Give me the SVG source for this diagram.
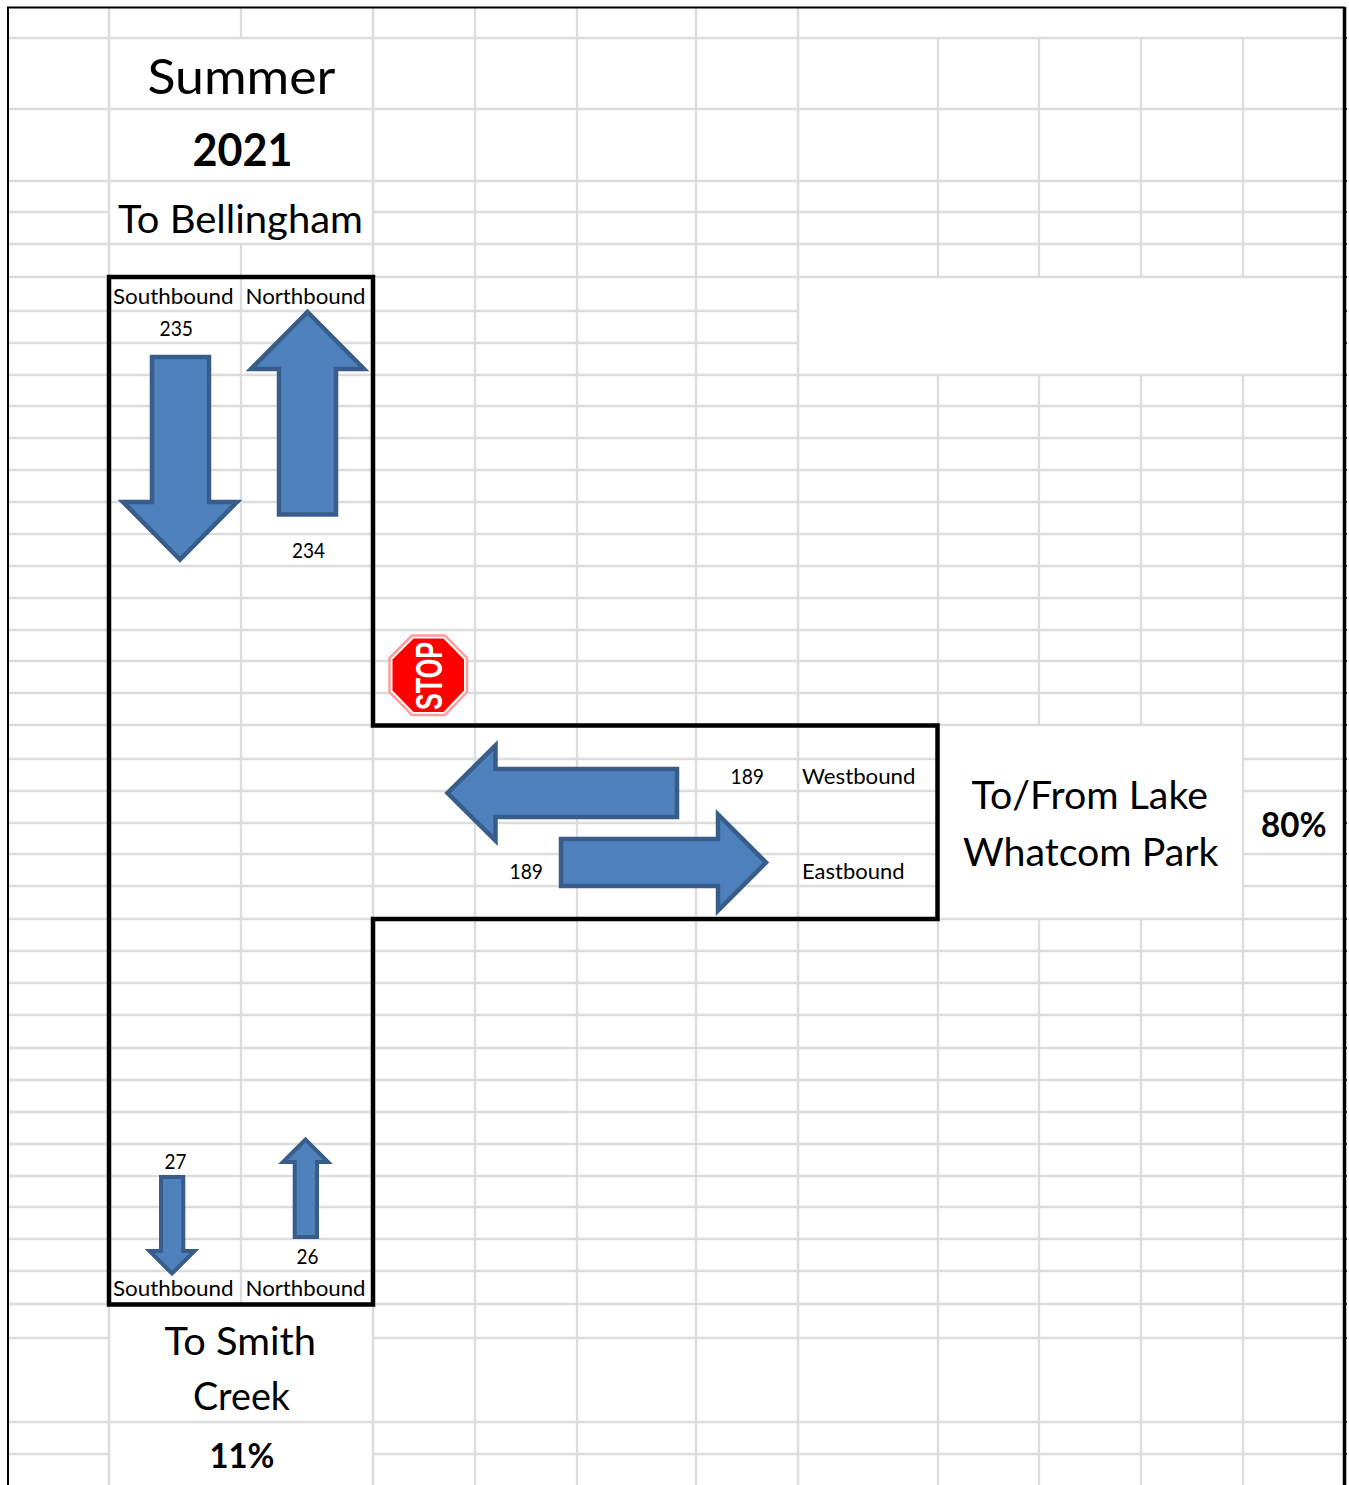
<svg xmlns="http://www.w3.org/2000/svg" width="1349" height="1485" viewBox="0 0 1349 1485">
<style>
.g{fill:none;stroke:#dcdcdc;stroke-width:2.300}
.gt{fill:none;stroke:#dcdcdc;stroke-width:2.600}
.a{fill:#4f81bd;stroke:#385d8a;stroke-width:4.500;stroke-miterlimit:10}
.s{fill:#4f81bd;stroke:#385d8a;stroke-width:4;stroke-miterlimit:10}
text{font-family:Lato,"Liberation Sans",sans-serif;fill:#000}
.b{font-weight:700}
.sm{font-size:22px}
.md{font-size:38px}
</style>
<rect width="1349" height="1485" fill="#fff"/>
<g id="grid">
<path class="g" d="M9 38H1344M9 109H1344M9 181H1344M9 212H109M373 212H1344M9 244H1344M9 277H1344M9 311H798M9 343H798M9 375H1344M9 406H1344M9 438H1344M9 470H1344M9 502H1344M9 534H1344M9 566H1344M9 598H1344M9 630H1344M9 661H1344M9 693H1344M9 725H1344M9 759H938M1243 759H1344M9 791H938M1243 791H1344M9 823H938M9 854H938M1243 854H1344M9 886H938M1243 886H1344M9 919H1344M9 951H1344M9 983H1344M9 1015H1344M9 1048H1344M9 1080H1344M9 1112H1344M9 1144H1344M9 1176H1344M9 1207H1344M9 1239H1344M9 1271H1344M9 1304H1344M9 1338H109M373 1338H1344M9 1422H1344M9 1454H109M373 1454H1344"/>
<path class="g" d="M241 8V38M241 244V1304M475 8V1485M577 8V1485M696 8V1485M938 38V277M938 375V1485M1039 38V277M1039 375V725M1039 919V1485M1141 38V277M1141 375V725M1141 919V1485M1243 38V277M1243 375V1485"/>
<path class="gt" d="M109 8V1485M373 8V1485M798 8V1485"/>
</g>
<g id="frame" fill="none" stroke="#000">
<path stroke-width="2" d="M8 1485V7.500H1345"/>
<path stroke-width="3.500" d="M1344.500 7V1485"/>
<path stroke-width="1.500" d="M1346 38h1M1346 109h1M1346 181h1M1346 212h1M1346 244h1M1346 277h1M1346 311h1M1346 343h1M1346 375h1M1346 406h1M1346 438h1M1346 470h1M1346 502h1M1346 534h1M1346 566h1M1346 598h1M1346 630h1M1346 661h1M1346 693h1M1346 725h1M1346 759h1M1346 791h1M1346 823h1M1346 854h1M1346 886h1M1346 919h1M1346 951h1M1346 983h1M1346 1015h1M1346 1048h1M1346 1080h1M1346 1112h1M1346 1144h1M1346 1176h1M1346 1207h1M1346 1239h1M1346 1271h1M1346 1304h1M1346 1338h1M1346 1422h1M1346 1454h1"/>
</g>
<g id="road"><path fill="none" stroke="#000" stroke-width="4.500" stroke-miterlimit="10" d="M109 277H373V725.500H937.500V919H373V1304.500H109Z"/></g>
<g id="connectors">
<path id="arrow-sb-top" class="a" d="M152 357H209V502H237L180 559.500L123 502H152Z"/>
<path id="arrow-nb-top" class="a" d="M279 514.500H336V369H364L307.500 312L251 369H279Z"/>
<path id="arrow-wb" class="a" d="M677 769V817H495.500V840.500L447.500 793L495.500 745.500V769Z"/>
<path id="arrow-eb" class="a" d="M561 839V886H718V910.500L766 862.500L718 814.500V839Z"/>
<path id="arrow-sb-bottom" class="s" d="M161 1177H183.300V1251H194.500L172 1273.500L149.500 1251H161Z"/>
<path id="arrow-nb-bottom" class="s" d="M294.700 1237H317V1162H328L305.500 1139.500L283 1162H294.700Z"/>
</g>
<g id="stop-sign">
<polygon points="412,635.500 445,635.500 467,658 467,692 445,715 412,715 389.500,692 389.500,658" fill="#fff" stroke="#ff9c9c" stroke-width="2.500"/>
<polygon points="413.500,638.500 443.500,638.500 464,659.500 464,690.500 443.500,712 413.500,712 392.500,690.500 392.500,659.500" fill="#f00"/>
<text transform="translate(441.500 710) rotate(-90)" font-size="36" textLength="68" lengthAdjust="spacingAndGlyphs" style="font-family:'Liberation Sans',Arial,sans-serif;fill:#fff" font-weight="700">STOP</text>
</g>
<g id="title">
<text x="147.500" y="94" font-size="48" textLength="188" lengthAdjust="spacingAndGlyphs">Summer</text>
<text class="b" x="192.500" y="165.500" font-size="45" textLength="100" lengthAdjust="spacingAndGlyphs">2021</text>
</g>
<g id="to-bellingham">
<text class="md" x="118" y="232.500" textLength="245" lengthAdjust="spacingAndGlyphs">To Bellingham</text>
<text class="sm" x="113" y="304" textLength="120.500" lengthAdjust="spacingAndGlyphs">Southbound</text>
<text class="sm" x="245.500" y="304" textLength="120" lengthAdjust="spacingAndGlyphs">Northbound</text>
<text class="sm" x="159.500" y="336" textLength="33.500" lengthAdjust="spacingAndGlyphs">235</text>
<text class="sm" x="292" y="558" textLength="33" lengthAdjust="spacingAndGlyphs">234</text>
</g>
<g id="lake-whatcom">
<text class="sm" x="730.500" y="784" textLength="33.500" lengthAdjust="spacingAndGlyphs">189</text>
<text class="sm" x="509.500" y="879" textLength="33.500" lengthAdjust="spacingAndGlyphs">189</text>
<text class="sm" x="802" y="784" textLength="113.500" lengthAdjust="spacingAndGlyphs">Westbound</text>
<text class="sm" x="802" y="879" textLength="102.500" lengthAdjust="spacingAndGlyphs">Eastbound</text>
<text class="md" x="971.500" y="809" textLength="236.500" lengthAdjust="spacingAndGlyphs">To/From Lake</text>
<text class="md" x="963" y="865.500" textLength="255.500" lengthAdjust="spacingAndGlyphs">Whatcom Park</text>
<text class="b" x="1261" y="836.500" font-size="34" textLength="65.500" lengthAdjust="spacingAndGlyphs">80%</text>
</g>
<g id="smith-creek">
<text class="sm" x="164.500" y="1169" textLength="22" lengthAdjust="spacingAndGlyphs">27</text>
<text class="sm" x="296.500" y="1264" textLength="22" lengthAdjust="spacingAndGlyphs">26</text>
<text class="sm" x="113" y="1296" textLength="120.500" lengthAdjust="spacingAndGlyphs">Southbound</text>
<text class="sm" x="245.500" y="1296" textLength="120" lengthAdjust="spacingAndGlyphs">Northbound</text>
<text class="md" x="164.500" y="1355" textLength="151.500" lengthAdjust="spacingAndGlyphs">To Smith</text>
<text class="md" x="193" y="1410" textLength="97" lengthAdjust="spacingAndGlyphs">Creek</text>
<text class="b" x="209.500" y="1468" font-size="34" textLength="65" lengthAdjust="spacingAndGlyphs">11%</text>
</g>
</svg>
